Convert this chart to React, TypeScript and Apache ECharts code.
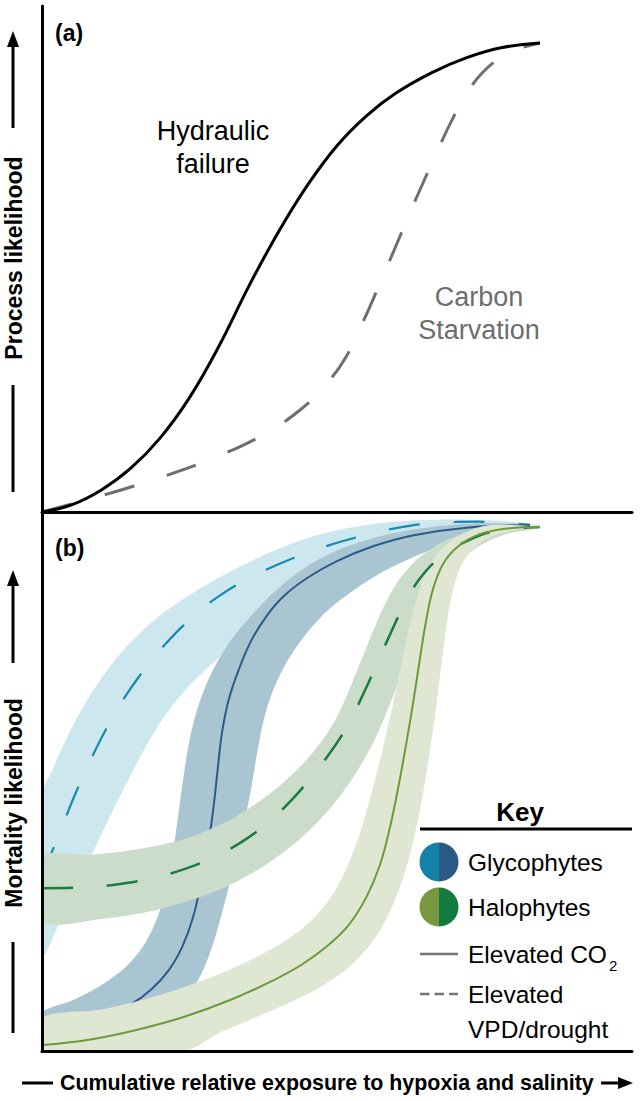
import React, { useEffect, useRef } from "react";
import * as echarts from "echarts";

type P = [number, number];

// x: cumulative relative exposure (0–100), y: likelihood (0–100)

// Panel (a)
const hydraulicFailure: P[] = [
  [0, 0], [5, 1.4], [10, 4.3], [15, 8.6], [20, 14.6], [25, 22.6], [30, 32.8], [35, 44.5],
  [40, 55.2], [45, 64.6], [50, 72.4], [55, 78.3], [60, 82.8], [66, 86.8], [72, 89.8],
  [78, 91.8], [84.4, 92.7],
];
const carbonStarvation: P[] = [
  [0, 0], [10, 3.2], [20, 6.8], [30, 11.1], [38, 15.6], [44, 20.4], [48, 25], [51.5, 30.6],
  [54.5, 37.8], [57.5, 45.8], [60.5, 54.0], [63.5, 62.2], [66.5, 70.0], [69.5, 77.5],
  [72.8, 84.2], [76.5, 88.8], [80.5, 91.4], [84.4, 92.7],
];

// Panel (b) – glycophytes, elevated VPD/drought
const glycoDroughtUpper: P[] = [
  [0, 47.5], [2, 52.7], [4.5, 58.8], [7.5, 64.8], [11, 70.6], [15, 75.8], [20, 80.8],
  [26, 85.3], [32, 89.0], [38, 92.2], [44, 94.8], [50, 96.6], [58, 98.0], [68, 98.6],
  [77, 98.4], [84.4, 97.6],
];
const glycoDroughtLower: P[] = [
  [0, 17.8], [4, 26.4], [8, 35.4], [12, 44.6], [15.5, 52.2], [18.5, 58.2], [21.5, 63.2],
  [25, 67.8], [30, 73.0], [36, 78.6], [43, 85.2], [50, 90.6], [58, 94.4], [67, 96.6],
  [77.6, 97.5],
];
const glycoDroughtLine: P[] = [
  [0, 32.5], [2, 37.8], [4, 43.3], [6, 48.6], [8.5, 54.6], [11, 60.0], [14, 65.6],
  [17.5, 71.0], [21, 75.6], [25, 80.0], [30, 84.4], [36, 88.2], [42, 91.2], [48, 93.6],
  [54, 95.5], [60, 97.0], [66, 97.9], [74, 98.2], [82.7, 97.6],
];

// glycophytes, elevated CO2
const glycoCO2Upper: P[] = [
  [0, 7.0], [5, 9.3], [10, 12.2], [14, 15.4], [17, 19.2], [19.2, 23.8], [20.8, 29.0],
  [22, 35.5], [23, 43.0], [24, 51.0], [25.1, 58.2], [26.5, 64.0], [28.5, 69.6],
  [31.5, 75.4], [35, 80.2], [39.5, 85.3], [45, 90.0], [51, 93.3], [58, 95.7], [66, 97.2],
  [74, 97.9], [82.7, 97.6],
];
const glycoCO2Lower: P[] = [
  [0, 1.1], [7, 1.9], [14, 3.3], [19.5, 5.6], [23.5, 8.8], [26.5, 13.2], [28.8, 19.2],
  [30.8, 26.8], [32.6, 34.6], [34.2, 42.0], [35.5, 49.0], [36.5, 55.5], [37.6, 61.5],
  [39.2, 67.0], [41.5, 72.2], [44.5, 77.0], [48.5, 81.8], [53.5, 86.0], [59, 89.6],
  [65, 92.6], [71, 94.9], [77.6, 96.7],
];
const glycoCO2Line: P[] = [
  [0, 3.9], [6, 5.2], [11, 6.8], [15, 8.6], [18.5, 11.4], [21.5, 15.0], [23.8, 19.4],
  [25.6, 24.8], [27, 31.5], [28.2, 38.5], [29.1, 45.5], [29.8, 52.5], [30.5, 59.0],
  [31.6, 65.0], [33.3, 70.6], [35.4, 76.0], [38, 80.6], [41, 84.4], [45, 87.8], [50, 90.9],
  [56, 93.6], [63, 95.7], [72, 97.1], [82.7, 97.6],
];

// halophytes, elevated VPD/drought
const haloDroughtUpper: P[] = [
  [0, 36.0], [8, 36.4], [16, 37.4], [24, 39.3], [31, 42.4], [36, 45.7], [40.5, 49.4],
  [44.5, 53.6], [47.5, 57.6], [50, 62.0], [52, 66.8], [54, 72.2], [56, 77.6], [58, 82.6],
  [60.5, 87.4], [64, 91.6], [69, 95.0], [76, 97.2], [84.4, 97.4],
];
const haloDroughtLower: P[] = [
  [0, 24.1], [10, 24.5], [20, 26.3], [30, 29.9], [38, 34.6], [44, 39.6], [49, 45.2],
  [53, 51.2], [56.5, 58.0], [59.5, 65.8], [62.3, 73.4], [64.8, 80.2], [67.2, 85.6],
  [70, 89.8], [74, 93.6], [79, 96.0], [84.4, 97.0],
];
const haloDroughtLine: P[] = [
  [0, 30.2], [6, 30.3], [12, 30.8], [18, 31.9], [24, 33.7], [29, 35.9], [34, 38.9],
  [38, 42.1], [42, 46.2], [45.5, 50.6], [49, 55.6], [52, 60.8], [54.6, 66.6], [57, 72.4],
  [59.2, 77.8], [61.4, 82.8], [64, 87.6], [67.5, 91.6], [72, 94.6], [77, 96.5], [84.4, 97.2],
];

// halophytes, elevated CO2
const haloCO2Upper: P[] = [
  [0, 6.1], [10, 7.7], [20, 10.4], [30, 14.3], [37, 17.8], [42, 21.0], [46, 24.6],
  [49.5, 29.4], [52.3, 35.6], [54.5, 42.6], [56.5, 50.6], [58.3, 58.6], [60.0, 67.0],
  [61.6, 75.4], [63.2, 82.8], [65, 88.4], [67.5, 92.8], [71, 95.8], [76, 97.6], [85.3, 97.2],
];
const haloCO2Lower: P[] = [
  [0, 0], [24, 0], [30, 3.3], [37, 6.6], [43, 9.5], [48, 12.4], [52.5, 16.0], [56.5, 21.0],
  [59.5, 27.2], [62, 35.0], [64, 44.4], [65.6, 54.6], [66.9, 64.6], [68, 74.4], [69.2, 83.2],
  [71, 90.0], [74, 94.0], [78, 96.2], [85.3, 97.2],
];
const haloCO2Line: P[] = [
  [0, 1.1], [8, 2.1], [16, 3.9], [24, 6.3], [32, 9.5], [39, 13.0], [44, 16.0], [48.5, 19.6],
  [52, 23.4], [55, 28.6], [57.3, 34.6], [59, 41.6], [60.4, 49.0], [61.7, 56.8], [62.9, 64.6],
  [64, 72.4], [65.1, 79.8], [66.3, 85.8], [68, 90.4], [70.5, 93.6], [74, 95.8], [78.5, 96.9],
  [84.4, 97.2],
];

// Text
const panelLabels = ["(a)", "(b)"];
const yTitles = ["Process likelihood", "Mortality likelihood"];
const xTitle = "Cumulative relative exposure to hypoxia and salinity";
const keyEntries = ["Glycophytes", "Halophytes"];

const FONT = "'Liberation Sans', Arial, Helvetica, sans-serif";

const C = {
  lightBlueBand: "#cde7ef",
  lightBlueLine: "#1a88b0",
  darkBlueBand: "#a9c5d1",
  darkBlueLine: "#2b5c89",
  greenBand: "#cbdccb",
  greenLine: "#1b7b3e",
  oliveBand: "#dfe7d3",
  oliveLine: "#6c9a3b",
};

function band(upper: P[], lower: P[], fill: string, z: number) {
  const poly = upper.concat(lower.slice().reverse());
  return {
    type: "custom",
    xAxisIndex: 1,
    yAxisIndex: 1,
    z,
    clip: true,
    silent: true,
    data: [[0, 0]],
    renderItem: (_params: any, api: any) => ({
      type: "polygon",
      shape: { points: poly.map((p) => api.coord(p)), smooth: 0.3 },
      style: { fill },
    }),
  };
}

function curve(data: P[], color: string, width: number, dashed: boolean, grid: number, z: number) {
  return {
    type: "line",
    xAxisIndex: grid,
    yAxisIndex: grid,
    data,
    smooth: 0.4,
    symbol: "none",
    silent: true,
    z,
    lineStyle: { color, width, type: dashed ? [31, 34] : "solid" },
  };
}

function txt(text: string, x: number, y: number, size: number, opts: any = {}) {
  const align = opts.align || "left";
  return {
    type: "text",
    x,
    y,
    rotation: opts.rotation || 0,
    silent: true,
    z: 100,
    style: {
      text,
      fontSize: size,
      fontWeight: opts.bold ? "bold" : "normal",
      fontFamily: FONT,
      fill: opts.color || "#000",
      align,
      textAlign: align,
      verticalAlign: "middle",
      textVerticalAlign: "middle",
      lineHeight: opts.lineHeight,
    },
  };
}

function seg(x1: number, y1: number, x2: number, y2: number, stroke: string, w: number, dash?: number[]) {
  return {
    type: "line",
    silent: true,
    z: 100,
    shape: { x1, y1, x2, y2 },
    style: { stroke, lineWidth: w, lineDash: dash },
  };
}

function tri(points: number[][]) {
  return { type: "polygon", silent: true, z: 100, shape: { points }, style: { fill: "#000" } };
}

function half(cx: number, cy: number, r: number, left: boolean, fill: string) {
  return {
    type: "sector",
    silent: true,
    z: 100,
    shape: {
      cx, cy, r, r0: 0,
      startAngle: left ? Math.PI / 2 : -Math.PI / 2,
      endAngle: left ? Math.PI * 1.5 : Math.PI / 2,
      clockwise: true,
    },
    style: { fill },
  };
}

const axisCommon = {
  type: "value",
  min: 0,
  max: 100,
  z: 10,
  axisLine: { show: true, onZero: false, lineStyle: { color: "#000", width: 3 } },
  axisTick: { show: false },
  axisLabel: { show: false },
  splitLine: { show: false },
};

export default function App() {
  const ref = useRef<HTMLDivElement>(null);
  useEffect(() => {
    document.body.style.margin = "0";
    if (!ref.current) return;
    const chart = echarts.init(ref.current, undefined, { renderer: "svg" });
    const option: any = {
      animation: false,
      backgroundColor: "#fff",
      grid: [
        { left: 42, right: 11, top: 6, height: 506 },
        { left: 42, right: 11, top: 512, height: 539 },
      ],
      xAxis: [
        { ...axisCommon, gridIndex: 0 },
        { ...axisCommon, gridIndex: 1 },
      ],
      yAxis: [
        { ...axisCommon, gridIndex: 0 },
        { ...axisCommon, gridIndex: 1 },
      ],
      series: [
        curve(carbonStarvation, "#6e6e6e", 3, true, 0, 2),
        curve(hydraulicFailure, "#000", 3, false, 0, 3),
        band(glycoDroughtUpper, glycoDroughtLower, C.lightBlueBand, 1),
        curve(glycoDroughtLine, C.lightBlueLine, 2.2, true, 1, 2),
        band(glycoCO2Upper, glycoCO2Lower, C.darkBlueBand, 3),
        curve(glycoCO2Line, C.darkBlueLine, 2, false, 1, 4),
        band(haloDroughtUpper, haloDroughtLower, C.greenBand, 5),
        band(haloCO2Upper, haloCO2Lower, C.oliveBand, 6),
        curve(haloDroughtLine, C.greenLine, 2.5, true, 1, 7),
        curve(haloCO2Line, C.oliveLine, 2, false, 1, 8),
      ],
      graphic: [
        txt(panelLabels[0], 55, 33, 23, { bold: true }),
        txt(panelLabels[1], 55, 548, 23, { bold: true }),
        txt("Hydraulic\nfailure", 213, 147, 27, { align: "center", lineHeight: 33 }),
        txt("Carbon\nStarvation", 479, 313, 27, { align: "center", lineHeight: 33, color: "#6d6d6d" }),
        // y titles with arrows
        txt(yTitles[0], 14, 258, 23, { bold: true, align: "center", rotation: Math.PI / 2 }),
        seg(13, 128, 13, 44, "#000", 3),
        tri([[13, 31], [7, 47], [19, 47]]),
        seg(13, 385, 13, 492, "#000", 3),
        txt(yTitles[1], 14, 803, 23, { bold: true, align: "center", rotation: Math.PI / 2 }),
        seg(13, 663, 13, 583, "#000", 3),
        tri([[13, 570], [7, 586], [19, 586]]),
        seg(13, 942, 13, 1033, "#000", 3),
        // x title
        seg(22, 1083, 53, 1083, "#000", 3),
        txt(xTitle, 60, 1083, 21.4, { bold: true }),
        seg(601, 1083, 621, 1083, "#000", 3),
        tri([[633, 1083], [618, 1077], [618, 1089]]),
        // key
        txt("Key", 520, 812, 26, { bold: true, align: "center" }),
        seg(420, 829, 632, 829, "#000", 3),
        half(439, 862, 19.5, true, "#1481a8"),
        half(439, 862, 19.5, false, "#2b5a85"),
        txt(keyEntries[0], 468, 862, 24.5),
        half(439, 907, 19.5, true, "#77983f"),
        half(439, 907, 19.5, false, "#137a40"),
        txt(keyEntries[1], 468, 907, 24.5),
        seg(420, 954, 458, 954, "#777", 2.5),
        txt("Elevated CO", 468, 954, 24.5),
        txt("2", 609, 965, 15),
        seg(420, 994, 458, 994, "#777", 2.5, [9.5, 5]),
        txt("Elevated", 468, 994, 24.5),
        txt("VPD/drought", 468, 1029, 24.5),
      ],
    };
    chart.setOption(option);
    return () => chart.dispose();
  }, []);
  return <div ref={ref} style={{ width: 643, height: 1101 }} />;
}
